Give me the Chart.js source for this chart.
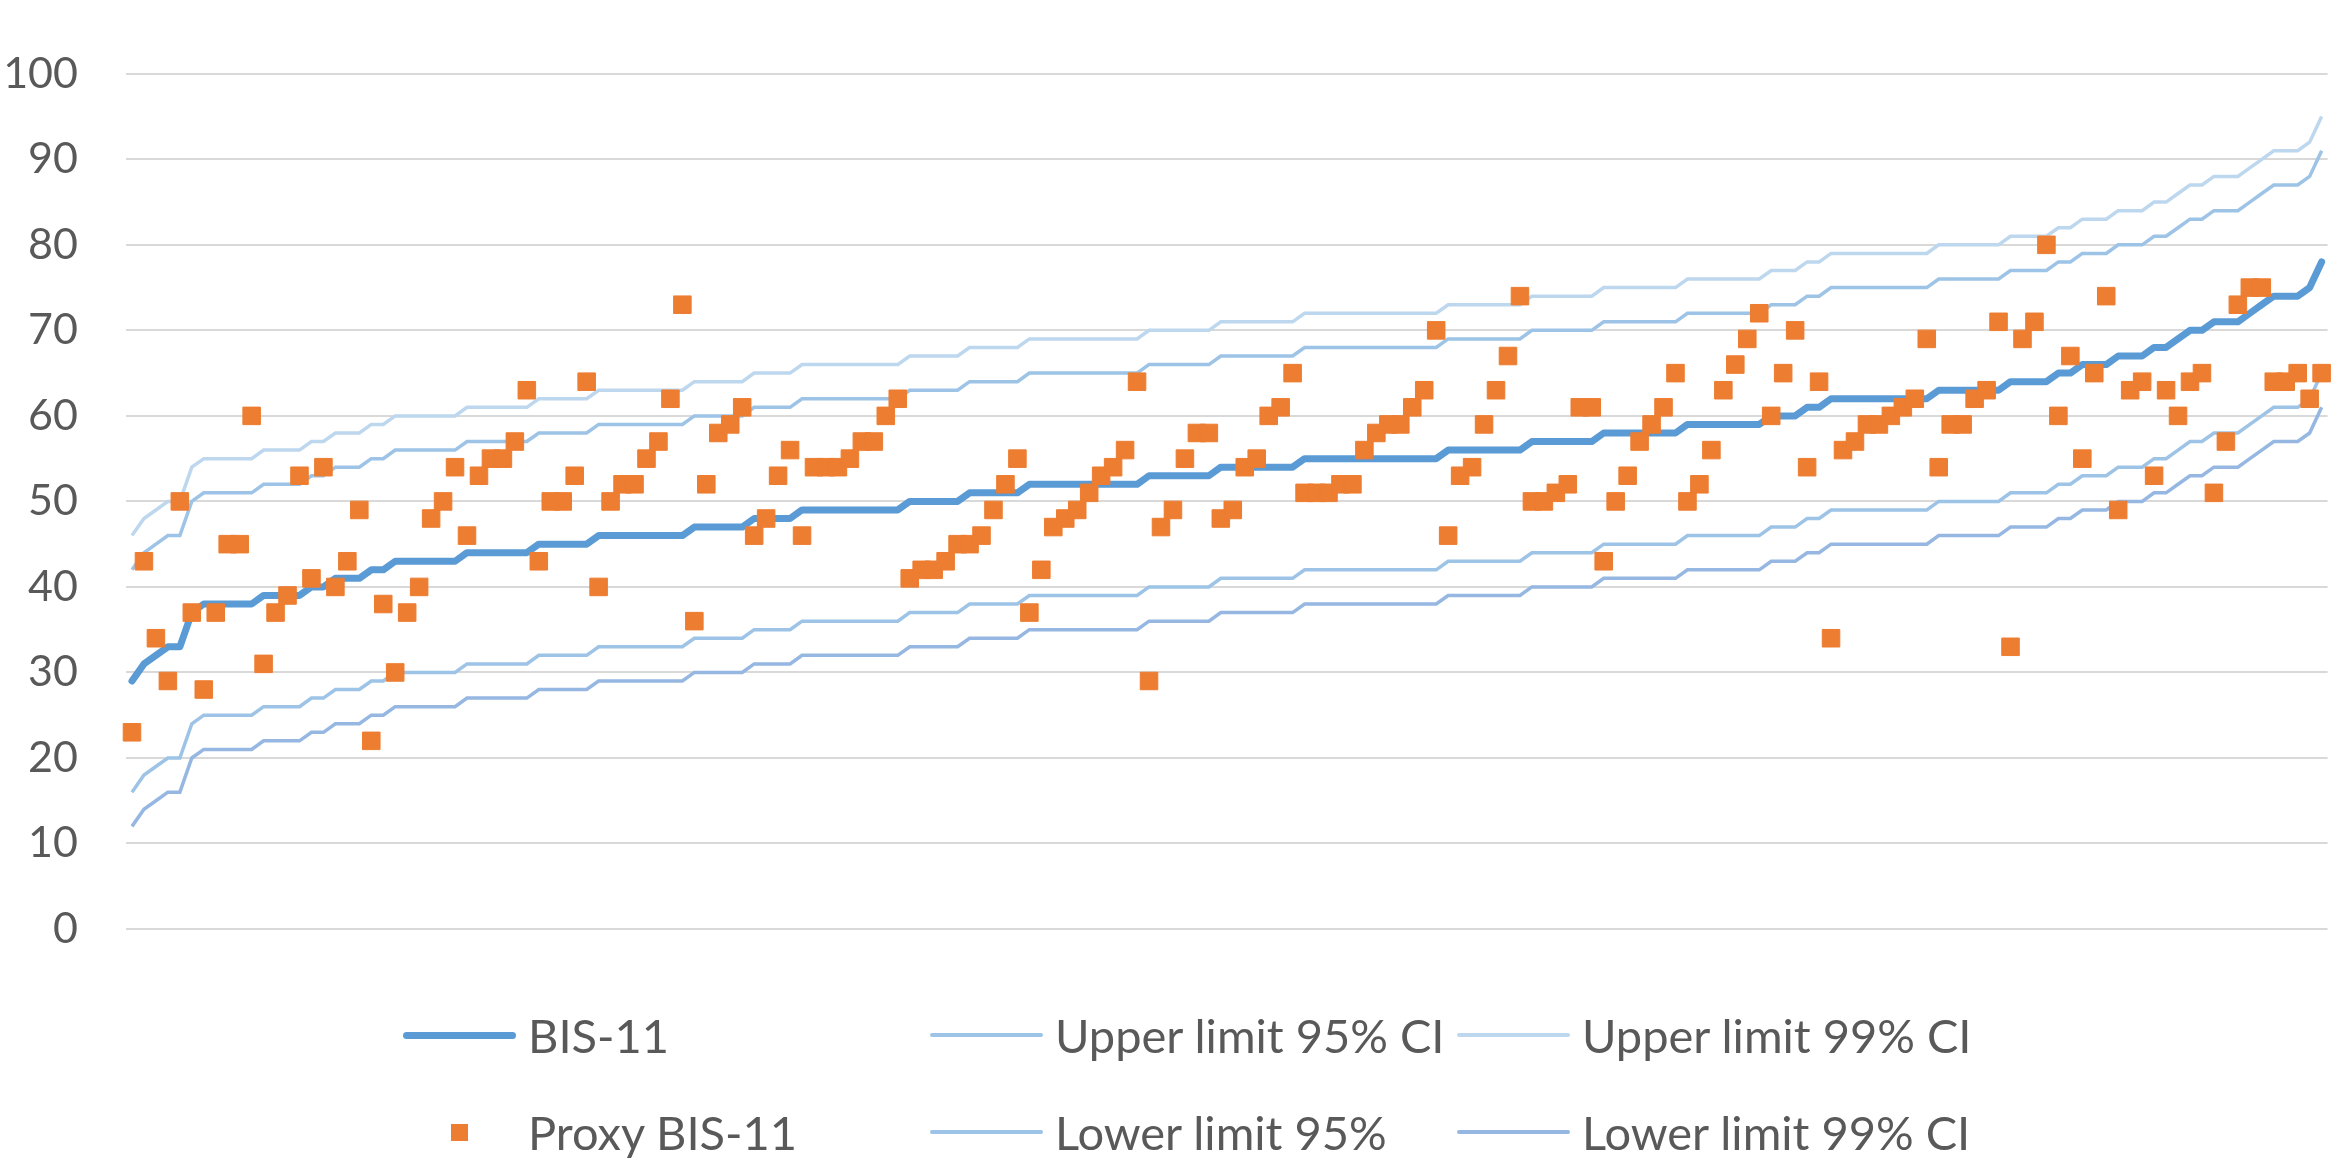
<!DOCTYPE html>
<html>
<head>
<meta charset="utf-8">
<script src="https://cdn.jsdelivr.net/npm/chart.js@4.4.1/dist/chart.umd.min.js"></script>
<style>
  body { margin: 0; background: #fff; }
  #wrap { position: relative; width: 2341px; height: 1167px; }
  #legend { position: absolute; left: 0; top: 0; width: 2341px; height: 1167px; pointer-events: none;
            font-family: Lato, "Open Sans", sans-serif; font-size: 47px; color: #595959; }
  .item { position: absolute; display: flex; align-items: center; height: 60px; }
  .swatch { width: 113px; margin-right: 12px; border-radius: 4px; }
  .marker { width: 17px; height: 17px; margin-left: 48px; margin-right: 60px; }
</style>
</head>
<body>
<div id="wrap">
  <canvas id="myChart" width="2341" height="1167"></canvas>
  <div id="legend"></div>
</div>
<script>
// one category per subject, sorted by BIS-11 score
const labels = [];
for (let i = 1; i <= 184; i++) labels.push('');

const bis11 = [
  29,31,32,33,33,37,38,38,38,38, 38,39,39,39,39,40,40,41,41,41,
  42,42,43,43,43,43,43,43,44,44, 44,44,44,44,45,45,45,45,45,46,
  46,46,46,46,46,46,46,47,47,47, 47,47,48,48,48,48,49,49,49,49,
  49,49,49,49,49,50,50,50,50,50, 51,51,51,51,51,52,52,52,52,52,
  52,52,52,52,52,53,53,53,53,53, 53,54,54,54,54,54,54,54,55,55,
  55,55,55,55,55,55,55,55,55,55, 56,56,56,56,56,56,56,57,57,57,
  57,57,57,58,58,58,58,58,58,58, 59,59,59,59,59,59,59,60,60,60,
  61,61,62,62,62,62,62,62,62,62, 62,63,63,63,63,63,63,64,64,64,
  64,65,65,66,66,66,67,67,67,68, 68,69,70,70,71,71,71,72,73,74,
  74,74,75,78
];

const proxy = [
  23,43,34,29,50,37,28,37,45,45, 60,31,37,39,53,41,54,40,43,49,
  22,38,30,37,40,48,50,54,46,53, 55,55,57,63,43,50,50,53,64,40,
  50,52,52,55,57,62,73,36,52,58, 59,61,46,48,53,56,46,54,54,54,
  55,57,57,60,62,41,42,42,43,45, 45,46,49,52,55,37,42,47,48,49,
  51,53,54,56,64,29,47,49,55,58, 58,48,49,54,55,60,61,65,51,51,
  51,52,52,56,58,59,59,61,63,70, 46,53,54,59,63,67,74,50,50,51,
  52,61,61,43,50,53,57,59,61,65, 50,52,56,63,66,69,72,60,65,70,
  54,64,34,56,57,59,59,60,61,62, 69,54,59,59,62,63,71,33,69,71,
  80,60,67,55,65,74,49,63,64,53, 63,60,64,65,51,57,73,75,75,64,
  64,65,62,65
];

const upper95 = [
  42,44,45,46,46,50,51,51,51,51, 51,52,52,52,52,53,53,54,54,54,
  55,55,56,56,56,56,56,56,57,57, 57,57,57,57,58,58,58,58,58,59,
  59,59,59,59,59,59,59,60,60,60, 60,60,61,61,61,61,62,62,62,62,
  62,62,62,62,62,63,63,63,63,63, 64,64,64,64,64,65,65,65,65,65,
  65,65,65,65,65,66,66,66,66,66, 66,67,67,67,67,67,67,67,68,68,
  68,68,68,68,68,68,68,68,68,68, 69,69,69,69,69,69,69,70,70,70,
  70,70,70,71,71,71,71,71,71,71, 72,72,72,72,72,72,72,73,73,73,
  74,74,75,75,75,75,75,75,75,75, 75,76,76,76,76,76,76,77,77,77,
  77,78,78,79,79,79,80,80,80,81, 81,82,83,83,84,84,84,85,86,87,
  87,87,88,91
];

const upper99 = [
  46,48,49,50,50,54,55,55,55,55, 55,56,56,56,56,57,57,58,58,58,
  59,59,60,60,60,60,60,60,61,61, 61,61,61,61,62,62,62,62,62,63,
  63,63,63,63,63,63,63,64,64,64, 64,64,65,65,65,65,66,66,66,66,
  66,66,66,66,66,67,67,67,67,67, 68,68,68,68,68,69,69,69,69,69,
  69,69,69,69,69,70,70,70,70,70, 70,71,71,71,71,71,71,71,72,72,
  72,72,72,72,72,72,72,72,72,72, 73,73,73,73,73,73,73,74,74,74,
  74,74,74,75,75,75,75,75,75,75, 76,76,76,76,76,76,76,77,77,77,
  78,78,79,79,79,79,79,79,79,79, 79,80,80,80,80,80,80,81,81,81,
  81,82,82,83,83,83,84,84,84,85, 85,86,87,87,88,88,88,89,90,91,
  91,91,92,95
];

const lower95 = [
  16,18,19,20,20,24,25,25,25,25, 25,26,26,26,26,27,27,28,28,28,
  29,29,30,30,30,30,30,30,31,31, 31,31,31,31,32,32,32,32,32,33,
  33,33,33,33,33,33,33,34,34,34, 34,34,35,35,35,35,36,36,36,36,
  36,36,36,36,36,37,37,37,37,37, 38,38,38,38,38,39,39,39,39,39,
  39,39,39,39,39,40,40,40,40,40, 40,41,41,41,41,41,41,41,42,42,
  42,42,42,42,42,42,42,42,42,42, 43,43,43,43,43,43,43,44,44,44,
  44,44,44,45,45,45,45,45,45,45, 46,46,46,46,46,46,46,47,47,47,
  48,48,49,49,49,49,49,49,49,49, 49,50,50,50,50,50,50,51,51,51,
  51,52,52,53,53,53,54,54,54,55, 55,56,57,57,58,58,58,59,60,61,
  61,61,62,65
];

const lower99 = [
  12,14,15,16,16,20,21,21,21,21, 21,22,22,22,22,23,23,24,24,24,
  25,25,26,26,26,26,26,26,27,27, 27,27,27,27,28,28,28,28,28,29,
  29,29,29,29,29,29,29,30,30,30, 30,30,31,31,31,31,32,32,32,32,
  32,32,32,32,32,33,33,33,33,33, 34,34,34,34,34,35,35,35,35,35,
  35,35,35,35,35,36,36,36,36,36, 36,37,37,37,37,37,37,37,38,38,
  38,38,38,38,38,38,38,38,38,38, 39,39,39,39,39,39,39,40,40,40,
  40,40,40,41,41,41,41,41,41,41, 42,42,42,42,42,42,42,43,43,43,
  44,44,45,45,45,45,45,45,45,45, 45,46,46,46,46,46,46,47,47,47,
  47,48,48,49,49,49,50,50,50,51, 51,52,53,53,54,54,54,55,56,57,
  57,57,58,61
];

const yTicks = [0, 10, 20, 30, 40, 50, 60, 70, 80, 90, 100];

function ciLine(label, data, color) {
    return {
        label: label,
        data: data,
        borderColor: color,
        backgroundColor: color,
        borderWidth: 3.5,
        pointRadius: 0,
        tension: 0,
        order: 2
    };
}

const datasets = [
    {
        label: 'BIS-11',
        data: bis11,
        borderColor: '#5B9BD5',
        backgroundColor: '#5B9BD5',
        borderWidth: 7,
        borderCapStyle: 'round',
        borderJoinStyle: 'round',
        pointRadius: 0,
        tension: 0,
        order: 1
    },
    ciLine('Upper limit 95% CI', upper95, '#9DC3E6'),
    ciLine('Upper limit 99% CI', upper99, '#BDD7EE'),
    {
        label: 'Proxy BIS-11',
        data: proxy,
        showLine: false,
        pointStyle: 'rect',
        pointRadius: 12.4,
        pointHoverRadius: 12.4,
        backgroundColor: '#ED7D31',
        borderColor: '#ED7D31',
        borderWidth: 1,
        order: 0
    },
    ciLine('Lower limit 95%', lower95, '#9DC3E6'),
    ciLine('Lower limit 99% CI', lower99, '#95B7E2')
];

const ctx = document.getElementById('myChart');

const myChart = new Chart(ctx, {
    type: 'line',
    data: { labels: labels, datasets: datasets },
    options: {
        responsive: false,
        animation: false,
        devicePixelRatio: 1,
        layout: { padding: { top: 34, right: 12, bottom: 238, left: 0 } },
        plugins: {
            legend: { display: false },
            tooltip: { enabled: false }
        },
        scales: {
            x: {
                type: 'category',
                offset: true,
                display: false
            },
            y: {
                min: 0,
                max: 100,
                afterFit: function (scale) { scale.width = 126; },
                afterBuildTicks: function (scale) {
                    scale.ticks = yTicks.map(v => ({ value: v }));
                },
                border: { display: false },
                grid: { color: '#D9D9D9', lineWidth: 2, drawTicks: false },
                ticks: {
                    padding: 48,
                    color: '#595959',
                    font: { family: 'Lato', size: 43 }
                }
            }
        }
    }
});

// legend laid out like the Excel one: three columns, two rows
const legendPos = [
    { x: 403, y: 1035 }, { x: 930, y: 1035 }, { x: 1457, y: 1035 },
    { x: 403, y: 1132 }, { x: 930, y: 1132 }, { x: 1457, y: 1132 }
];
const legend = document.getElementById('legend');
datasets.forEach((ds, i) => {
    const item = document.createElement('div');
    item.className = 'item';
    item.style.left = legendPos[i].x + 'px';
    item.style.top = (legendPos[i].y - 30) + 'px';
    const sw = document.createElement('div');
    if (ds.showLine === false) {
        sw.className = 'marker';
        sw.style.background = ds.backgroundColor;
    } else {
        sw.className = 'swatch';
        sw.style.height = ds.borderWidth + 'px';
        sw.style.background = ds.borderColor;
    }
    const txt = document.createElement('span');
    txt.textContent = ds.label;
    item.appendChild(sw);
    item.appendChild(txt);
    legend.appendChild(item);
});
</script>
</body>
</html>
